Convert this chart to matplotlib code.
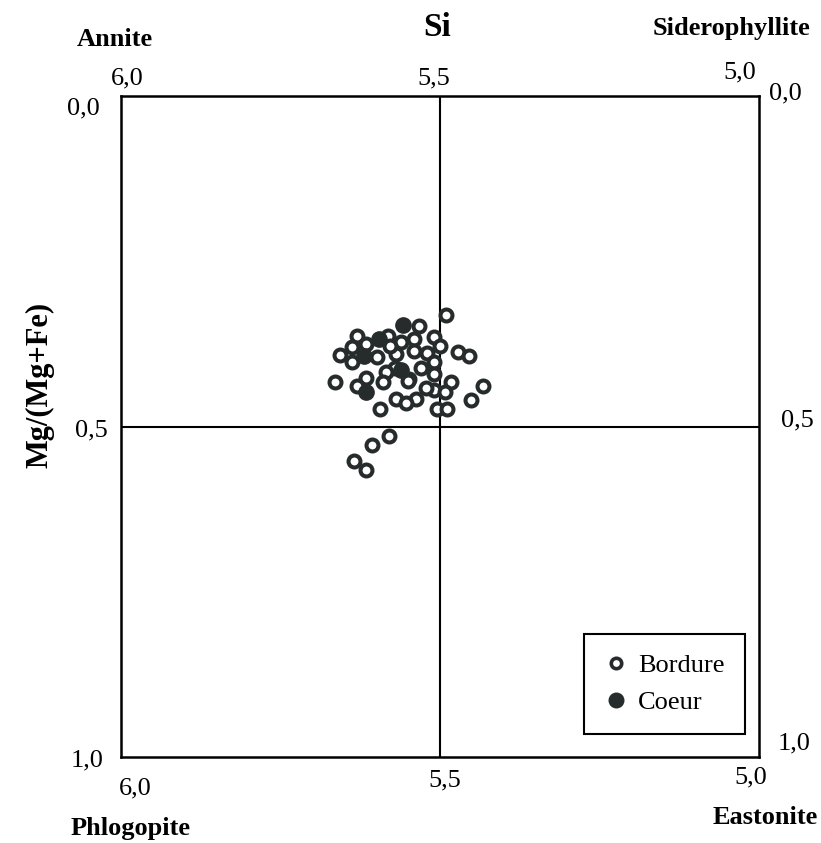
import matplotlib.pyplot as plt
from matplotlib.lines import Line2D

plt.rcParams['font.family'] = ['Liberation Serif', 'DejaVu Serif']

# Bordure (open circles)
si_bordure = [5.490, 5.533, 5.510, 5.500, 5.540, 5.540, 5.520, 5.471, 5.454, 5.530,
              5.510, 5.510, 5.548, 5.482, 5.433, 5.510, 5.522, 5.492, 5.538, 5.451,
              5.505, 5.489, 5.629, 5.581, 5.657, 5.637, 5.616, 5.637, 5.599, 5.568,
              5.561, 5.578, 5.571, 5.584, 5.550, 5.665, 5.616, 5.629, 5.589, 5.568,
              5.553, 5.594, 5.579, 5.606, 5.635, 5.615]
mg_bordure = [0.331, 0.348, 0.365, 0.378, 0.368, 0.385, 0.388, 0.387, 0.393, 0.411,
              0.403, 0.421, 0.428, 0.433, 0.438, 0.444, 0.441, 0.447, 0.459, 0.460,
              0.473, 0.473, 0.363, 0.363, 0.392, 0.380, 0.375, 0.403, 0.395, 0.390,
              0.372, 0.378, 0.411, 0.418, 0.431, 0.433, 0.426, 0.438, 0.433, 0.459,
              0.464, 0.474, 0.515, 0.528, 0.552, 0.565]

# Coeur (filled circles)
si_coeur = [5.558, 5.596, 5.619, 5.561, 5.616]
mg_coeur = [0.347, 0.368, 0.393, 0.414, 0.448]

x_ticks = [6.0, 5.5, 5.0]
x_labels = ['6,0', '5,5', '5,0']
y_ticks = [0.0, 0.5, 1.0]
y_labels = ['0,0', '0,5', '1,0']

dark = '#262b2b'

fig = plt.figure(figsize=(8.21, 8.43), dpi=100)
ax = fig.add_axes([0.1468, 0.102, 0.778, 0.784])

ax.axvline(5.5, color='black', lw=1.5, zorder=1)
ax.axhline(0.5, color='black', lw=1.5, zorder=1)

ax.plot(si_bordure, mg_bordure, 'o', ms=8.6, mfc='white', mec=dark, mew=2.9,
        ls='none', zorder=3)
ax.plot(si_coeur, mg_coeur, 'o', ms=11, mfc=dark, mec=dark, mew=1,
        ls='none', zorder=4)

ax.set_xlim(6.0, 5.0)
ax.set_ylim(1.0, 0.0)
for s in ax.spines.values():
    s.set_linewidth(1.8)
ax.set_xticks([])
ax.set_yticks([])

# tick labels, placed around the frame (offsets in pixels)
tick_fs = 19
top_off = [(6.5, 18), (-6, 18), (-19.5, 24)]
bot_off = [(14.5, -31), (5, -23), (-8.5, -20)]
for x, lbl, to, bo in zip(x_ticks, x_labels, top_off, bot_off):
    ax.annotate(lbl, xy=(x, 0.0), xytext=to, textcoords='offset pixels',
                ha='center', va='center', fontsize=tick_fs)
    ax.annotate(lbl, xy=(x, 1.0), xytext=bo, textcoords='offset pixels',
                ha='center', va='center', fontsize=tick_fs)
left_off = [(-37, -12), (-29.5, -3.5), (-33, -3)]
right_off = [(26.5, 3), (38.5, 6.5), (34.5, 14)]
for y, lbl, lo, ro in zip(y_ticks, y_labels, left_off, right_off):
    ax.annotate(lbl, xy=(6.0, y), xytext=lo, textcoords='offset pixels',
                ha='center', va='center', fontsize=tick_fs)
    ax.annotate(lbl, xy=(5.0, y), xytext=ro, textcoords='offset pixels',
                ha='center', va='center', fontsize=tick_fs)

# end-member names and axis titles
name_fs = 19
fig.text(115 / 821, 1 - 40 / 843, 'Annite', ha='center', va='center',
         fontsize=name_fs, fontweight='bold')
fig.text(437 / 821, 1 - 28 / 843, 'Si', ha='center', va='center',
         fontsize=24, fontweight='bold')
fig.text(731 / 821, 1 - 28 / 843, 'Siderophyllite', ha='center', va='center',
         fontsize=name_fs, fontweight='bold')
fig.text(131 / 821, 1 - 828 / 843, 'Phlogopite', ha='center', va='center',
         fontsize=name_fs, fontweight='bold')
fig.text(765 / 821, 1 - 818 / 843, 'Eastonite', ha='center', va='center',
         fontsize=name_fs, fontweight='bold')
fig.text(40 / 821, 1 - 385 / 843, 'Mg/(Mg+Fe)', ha='center', va='center',
         rotation=90, fontsize=22, fontweight='bold')

handles = [
    Line2D([], [], marker='o', ls='none', ms=7.5, mfc='white', mec=dark, mew=2.6),
    Line2D([], [], marker='o', ls='none', ms=10.5, mfc=dark, mec=dark),
]
leg = ax.legend(handles, ['Bordure', 'Coeur'], loc='lower right',
                bbox_to_anchor=(0.977, 0.035), borderaxespad=0, fontsize=19,
                fancybox=False, edgecolor='black', framealpha=1,
                handletextpad=0.4, borderpad=0.75, labelspacing=0.5,
                handlelength=0.9)
leg.get_frame().set_linewidth(1.5)

fig.savefig('out.png', dpi=100)
